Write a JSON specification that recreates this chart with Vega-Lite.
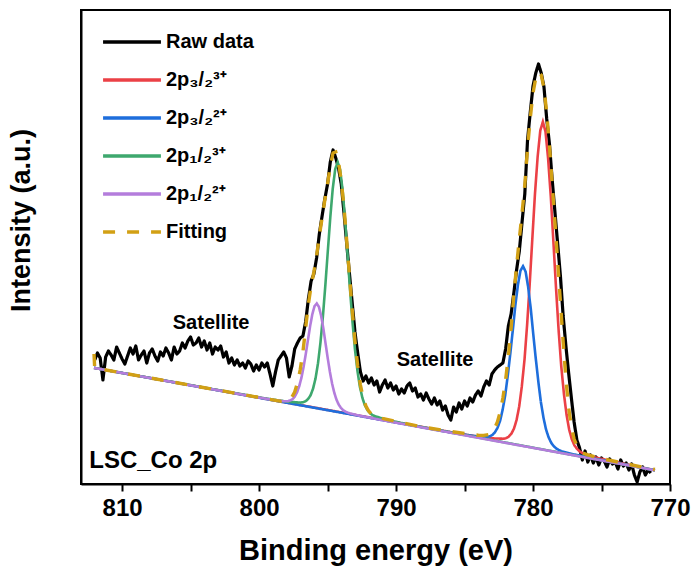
{
"$schema":"https://vega.github.io/schema/vega-lite/v6.json",
"width":589,"height":474,"autosize":{"type":"none"},
"padding":{"left":81,"top":10,"right":22,"bottom":90},
"background":"white",
"config":{"view":{"stroke":"black","strokeWidth":2},"font":"Liberation Sans"},
"data":{"values":[
{"s":"Raw data","e":812.0,"v":124},{"s":"Raw data","e":811.8,"v":131},{"s":"Raw data","e":811.6,"v":126},{"s":"Raw data","e":811.4,"v":104},{"s":"Raw data","e":811.2,"v":127},{"s":"Raw data","e":811.0,"v":133},{"s":"Raw data","e":810.8,"v":129},{"s":"Raw data","e":810.6,"v":124},{"s":"Raw data","e":810.4,"v":137},{"s":"Raw data","e":810.2,"v":131},{"s":"Raw data","e":810.0,"v":125},{"s":"Raw data","e":809.8,"v":120},{"s":"Raw data","e":809.6,"v":128},{"s":"Raw data","e":809.4,"v":136},{"s":"Raw data","e":809.2,"v":130},{"s":"Raw data","e":809.0,"v":138},{"s":"Raw data","e":808.8,"v":124},{"s":"Raw data","e":808.6,"v":129},{"s":"Raw data","e":808.4,"v":133},{"s":"Raw data","e":808.2,"v":121},{"s":"Raw data","e":808.0,"v":131},{"s":"Raw data","e":807.8,"v":135},{"s":"Raw data","e":807.6,"v":128},{"s":"Raw data","e":807.4,"v":123},{"s":"Raw data","e":807.2,"v":132},{"s":"Raw data","e":807.0,"v":128},{"s":"Raw data","e":806.8,"v":136},{"s":"Raw data","e":806.6,"v":131},{"s":"Raw data","e":806.4,"v":124},{"s":"Raw data","e":806.2,"v":137},{"s":"Raw data","e":806.0,"v":130},{"s":"Raw data","e":805.8,"v":133},{"s":"Raw data","e":805.6,"v":141},{"s":"Raw data","e":805.4,"v":136},{"s":"Raw data","e":805.2,"v":143},{"s":"Raw data","e":805.0,"v":147},{"s":"Raw data","e":804.8,"v":139},{"s":"Raw data","e":804.6,"v":141},{"s":"Raw data","e":804.4,"v":146},{"s":"Raw data","e":804.2,"v":137},{"s":"Raw data","e":804.0,"v":143},{"s":"Raw data","e":803.8,"v":134},{"s":"Raw data","e":803.6,"v":141},{"s":"Raw data","e":803.4,"v":130},{"s":"Raw data","e":803.2,"v":137},{"s":"Raw data","e":803.0,"v":134},{"s":"Raw data","e":802.8,"v":138},{"s":"Raw data","e":802.6,"v":127},{"s":"Raw data","e":802.4,"v":132},{"s":"Raw data","e":802.2,"v":121},{"s":"Raw data","e":802.0,"v":126},{"s":"Raw data","e":801.8,"v":119},{"s":"Raw data","e":801.6,"v":124},{"s":"Raw data","e":801.4,"v":118},{"s":"Raw data","e":801.2,"v":121},{"s":"Raw data","e":801.0,"v":116},{"s":"Raw data","e":800.8,"v":123},{"s":"Raw data","e":800.6,"v":120},{"s":"Raw data","e":800.4,"v":113},{"s":"Raw data","e":800.2,"v":119},{"s":"Raw data","e":800.0,"v":114},{"s":"Raw data","e":799.8,"v":121},{"s":"Raw data","e":799.6,"v":117},{"s":"Raw data","e":799.4,"v":121},{"s":"Raw data","e":799.2,"v":110},{"s":"Raw data","e":799.0,"v":98},{"s":"Raw data","e":798.8,"v":112},{"s":"Raw data","e":798.6,"v":124},{"s":"Raw data","e":798.4,"v":128},{"s":"Raw data","e":798.2,"v":132},{"s":"Raw data","e":798.0,"v":126},{"s":"Raw data","e":797.8,"v":107},{"s":"Raw data","e":797.6,"v":118},{"s":"Raw data","e":797.4,"v":135},{"s":"Raw data","e":797.2,"v":141},{"s":"Raw data","e":797.0,"v":146},{"s":"Raw data","e":796.8,"v":148},{"s":"Raw data","e":796.6,"v":162},{"s":"Raw data","e":796.4,"v":185},{"s":"Raw data","e":796.2,"v":203},{"s":"Raw data","e":796.0,"v":210},{"s":"Raw data","e":795.8,"v":226},{"s":"Raw data","e":795.6,"v":250},{"s":"Raw data","e":795.4,"v":268},{"s":"Raw data","e":795.2,"v":285},{"s":"Raw data","e":795.0,"v":300},{"s":"Raw data","e":794.8,"v":322},{"s":"Raw data","e":794.6,"v":334},{"s":"Raw data","e":794.4,"v":326},{"s":"Raw data","e":794.2,"v":316},{"s":"Raw data","e":794.0,"v":300},{"s":"Raw data","e":793.8,"v":271},{"s":"Raw data","e":793.6,"v":240},{"s":"Raw data","e":793.4,"v":210},{"s":"Raw data","e":793.2,"v":181},{"s":"Raw data","e":793.0,"v":152},{"s":"Raw data","e":792.8,"v":131},{"s":"Raw data","e":792.6,"v":112},{"s":"Raw data","e":792.4,"v":103},{"s":"Raw data","e":792.2,"v":108},{"s":"Raw data","e":792.0,"v":101},{"s":"Raw data","e":791.8,"v":106},{"s":"Raw data","e":791.6,"v":99},{"s":"Raw data","e":791.4,"v":103},{"s":"Raw data","e":791.2,"v":92},{"s":"Raw data","e":791.0,"v":99},{"s":"Raw data","e":790.8,"v":104},{"s":"Raw data","e":790.6,"v":96},{"s":"Raw data","e":790.4,"v":101},{"s":"Raw data","e":790.2,"v":94},{"s":"Raw data","e":790.0,"v":98},{"s":"Raw data","e":789.8,"v":90},{"s":"Raw data","e":789.6,"v":95},{"s":"Raw data","e":789.4,"v":91},{"s":"Raw data","e":789.2,"v":98},{"s":"Raw data","e":789.0,"v":101},{"s":"Raw data","e":788.8,"v":93},{"s":"Raw data","e":788.6,"v":96},{"s":"Raw data","e":788.4,"v":87},{"s":"Raw data","e":788.2,"v":90},{"s":"Raw data","e":788.0,"v":84},{"s":"Raw data","e":787.8,"v":91},{"s":"Raw data","e":787.6,"v":85},{"s":"Raw data","e":787.4,"v":80},{"s":"Raw data","e":787.2,"v":86},{"s":"Raw data","e":787.0,"v":79},{"s":"Raw data","e":786.8,"v":83},{"s":"Raw data","e":786.6,"v":74},{"s":"Raw data","e":786.4,"v":78},{"s":"Raw data","e":786.2,"v":69},{"s":"Raw data","e":786.0,"v":64},{"s":"Raw data","e":785.8,"v":77},{"s":"Raw data","e":785.6,"v":72},{"s":"Raw data","e":785.4,"v":81},{"s":"Raw data","e":785.2,"v":75},{"s":"Raw data","e":785.0,"v":83},{"s":"Raw data","e":784.8,"v":78},{"s":"Raw data","e":784.6,"v":86},{"s":"Raw data","e":784.4,"v":82},{"s":"Raw data","e":784.2,"v":89},{"s":"Raw data","e":784.0,"v":93},{"s":"Raw data","e":783.8,"v":88},{"s":"Raw data","e":783.6,"v":97},{"s":"Raw data","e":783.4,"v":103},{"s":"Raw data","e":783.2,"v":99},{"s":"Raw data","e":783.0,"v":110},{"s":"Raw data","e":782.8,"v":114},{"s":"Raw data","e":782.6,"v":117},{"s":"Raw data","e":782.4,"v":119},{"s":"Raw data","e":782.2,"v":121},{"s":"Raw data","e":782.0,"v":135},{"s":"Raw data","e":781.8,"v":158},{"s":"Raw data","e":781.6,"v":170},{"s":"Raw data","e":781.4,"v":191},{"s":"Raw data","e":781.2,"v":214},{"s":"Raw data","e":781.0,"v":233},{"s":"Raw data","e":780.8,"v":262},{"s":"Raw data","e":780.6,"v":290},{"s":"Raw data","e":780.4,"v":344},{"s":"Raw data","e":780.2,"v":372},{"s":"Raw data","e":780.0,"v":398},{"s":"Raw data","e":779.8,"v":411},{"s":"Raw data","e":779.6,"v":420},{"s":"Raw data","e":779.4,"v":411},{"s":"Raw data","e":779.2,"v":397},{"s":"Raw data","e":779.0,"v":365},{"s":"Raw data","e":778.8,"v":340},{"s":"Raw data","e":778.6,"v":304},{"s":"Raw data","e":778.4,"v":272},{"s":"Raw data","e":778.2,"v":240},{"s":"Raw data","e":778.0,"v":208},{"s":"Raw data","e":777.8,"v":168},{"s":"Raw data","e":777.6,"v":138},{"s":"Raw data","e":777.4,"v":111},{"s":"Raw data","e":777.2,"v":86},{"s":"Raw data","e":777.0,"v":62},{"s":"Raw data","e":776.8,"v":44},{"s":"Raw data","e":776.6,"v":36},{"s":"Raw data","e":776.4,"v":24},{"s":"Raw data","e":776.2,"v":33},{"s":"Raw data","e":776.0,"v":22},{"s":"Raw data","e":775.8,"v":29},{"s":"Raw data","e":775.6,"v":21},{"s":"Raw data","e":775.4,"v":27},{"s":"Raw data","e":775.2,"v":19},{"s":"Raw data","e":775.0,"v":26},{"s":"Raw data","e":774.8,"v":23},{"s":"Raw data","e":774.6,"v":17},{"s":"Raw data","e":774.4,"v":25},{"s":"Raw data","e":774.2,"v":20},{"s":"Raw data","e":774.0,"v":22},{"s":"Raw data","e":773.8,"v":15},{"s":"Raw data","e":773.6,"v":24},{"s":"Raw data","e":773.4,"v":18},{"s":"Raw data","e":773.2,"v":21},{"s":"Raw data","e":773.0,"v":14},{"s":"Raw data","e":772.8,"v":20},{"s":"Raw data","e":772.6,"v":9},{"s":"Raw data","e":772.4,"v":2},{"s":"Raw data","e":772.2,"v":12},{"s":"Raw data","e":772.0,"v":17},{"s":"Raw data","e":771.8,"v":9},{"s":"Raw data","e":771.6,"v":14},{"s":"Raw data","e":771.4,"v":11},

{"s":"2p₃/₂³⁺","e":771.1,"v":13.75},{"s":"2p₃/₂³⁺","e":773.52,"v":20.7},{"s":"2p₃/₂³⁺","e":775.44,"v":26.5},{"s":"2p₃/₂³⁺","e":776.40,"v":30.9},{"s":"2p₃/₂³⁺","e":776.59,"v":32.5},{"s":"2p₃/₂³⁺","e":776.78,"v":35.0},{"s":"2p₃/₂³⁺","e":776.98,"v":38.7},{"s":"2p₃/₂³⁺","e":777.17,"v":44.8},{"s":"2p₃/₂³⁺","e":777.36,"v":54.4},{"s":"2p₃/₂³⁺","e":777.55,"v":68.9},{"s":"2p₃/₂³⁺","e":777.74,"v":89.7},{"s":"2p₃/₂³⁺","e":777.94,"v":117.8},{"s":"2p₃/₂³⁺","e":778.13,"v":153.5},{"s":"2p₃/₂³⁺","e":778.32,"v":195.8},{"s":"2p₃/₂³⁺","e":778.51,"v":241.7},{"s":"2p₃/₂³⁺","e":778.70,"v":286.9},{"s":"2p₃/₂³⁺","e":778.90,"v":325.7},{"s":"2p₃/₂³⁺","e":779.09,"v":352.4},{"s":"2p₃/₂³⁺","e":779.28,"v":362.2},{"s":"2p₃/₂³⁺","e":779.47,"v":353.4},{"s":"2p₃/₂³⁺","e":779.66,"v":327.7},{"s":"2p₃/₂³⁺","e":779.86,"v":289.7},{"s":"2p₃/₂³⁺","e":780.05,"v":245.5},{"s":"2p₃/₂³⁺","e":780.24,"v":200.6},{"s":"2p₃/₂³⁺","e":780.43,"v":159.3},{"s":"2p₃/₂³⁺","e":780.62,"v":124.6},{"s":"2p₃/₂³⁺","e":780.82,"v":97.3},{"s":"2p₃/₂³⁺","e":781.01,"v":77.5},{"s":"2p₃/₂³⁺","e":781.20,"v":64.0},{"s":"2p₃/₂³⁺","e":781.39,"v":55.4},{"s":"2p₃/₂³⁺","e":781.58,"v":50.3},{"s":"2p₃/₂³⁺","e":781.78,"v":47.4},{"s":"2p₃/₂³⁺","e":781.97,"v":45.9},{"s":"2p₃/₂³⁺","e":782.16,"v":45.3},{"s":"2p₃/₂³⁺","e":783.12,"v":45.7},{"s":"2p₃/₂³⁺","e":785.04,"v":49.5},{"s":"2p₃/₂³⁺","e":812.05,"v":116.1},

{"s":"2p₃/₂²⁺","e":771.1,"v":13.75},{"s":"2p₃/₂²⁺","e":775.15,"v":24.4},{"s":"2p₃/₂²⁺","e":777.01,"v":29.6},{"s":"2p₃/₂²⁺","e":777.94,"v":32.9},{"s":"2p₃/₂²⁺","e":778.13,"v":34.1},{"s":"2p₃/₂²⁺","e":778.31,"v":35.6},{"s":"2p₃/₂²⁺","e":778.50,"v":38.0},{"s":"2p₃/₂²⁺","e":778.68,"v":41.4},{"s":"2p₃/₂²⁺","e":778.87,"v":46.9},{"s":"2p₃/₂²⁺","e":779.06,"v":55.0},{"s":"2p₃/₂²⁺","e":779.24,"v":66.6},{"s":"2p₃/₂²⁺","e":779.43,"v":82.3},{"s":"2p₃/₂²⁺","e":779.61,"v":102.1},{"s":"2p₃/₂²⁺","e":779.80,"v":125.5},{"s":"2p₃/₂²⁺","e":779.99,"v":150.9},{"s":"2p₃/₂²⁺","e":780.17,"v":175.9},{"s":"2p₃/₂²⁺","e":780.36,"v":197.4},{"s":"2p₃/₂²⁺","e":780.54,"v":212.3},{"s":"2p₃/₂²⁺","e":780.73,"v":217.8},{"s":"2p₃/₂²⁺","e":780.92,"v":213.2},{"s":"2p₃/₂²⁺","e":781.10,"v":199.3},{"s":"2p₃/₂²⁺","e":781.29,"v":178.7},{"s":"2p₃/₂²⁺","e":781.47,"v":154.6},{"s":"2p₃/₂²⁺","e":781.66,"v":130.2},{"s":"2p₃/₂²⁺","e":781.85,"v":107.7},{"s":"2p₃/₂²⁺","e":782.03,"v":88.8},{"s":"2p₃/₂²⁺","e":782.22,"v":74.1},{"s":"2p₃/₂²⁺","e":782.40,"v":63.4},{"s":"2p₃/₂²⁺","e":782.59,"v":56.2},{"s":"2p₃/₂²⁺","e":782.78,"v":51.7},{"s":"2p₃/₂²⁺","e":782.96,"v":49.1},{"s":"2p₃/₂²⁺","e":783.15,"v":47.7},{"s":"2p₃/₂²⁺","e":783.33,"v":47.1},{"s":"2p₃/₂²⁺","e":783.52,"v":46.9},{"s":"2p₃/₂²⁺","e":784.45,"v":48.2},{"s":"2p₃/₂²⁺","e":786.31,"v":52.3},{"s":"2p₃/₂²⁺","e":812.05,"v":116.1},

{"s":"2p₁/₂³⁺","e":771.1,"v":13.75},{"s":"2p₁/₂³⁺","e":788.86,"v":58.8},{"s":"2p₁/₂³⁺","e":790.66,"v":64.1},{"s":"2p₁/₂³⁺","e":791.56,"v":67.9},{"s":"2p₁/₂³⁺","e":791.74,"v":69.2},{"s":"2p₁/₂³⁺","e":791.92,"v":71.1},{"s":"2p₁/₂³⁺","e":792.10,"v":74.2},{"s":"2p₁/₂³⁺","e":792.28,"v":78.8},{"s":"2p₁/₂³⁺","e":792.46,"v":86.3},{"s":"2p₁/₂³⁺","e":792.64,"v":97.3},{"s":"2p₁/₂³⁺","e":792.82,"v":113.3},{"s":"2p₁/₂³⁺","e":793.00,"v":134.8},{"s":"2p₁/₂³⁺","e":793.18,"v":162.2},{"s":"2p₁/₂³⁺","e":793.36,"v":194.4},{"s":"2p₁/₂³⁺","e":793.54,"v":229.5},{"s":"2p₁/₂³⁺","e":793.72,"v":264.0},{"s":"2p₁/₂³⁺","e":793.90,"v":293.7},{"s":"2p₁/₂³⁺","e":794.08,"v":314.1},{"s":"2p₁/₂³⁺","e":794.26,"v":321.7},{"s":"2p₁/₂³⁺","e":794.44,"v":315.0},{"s":"2p₁/₂³⁺","e":794.62,"v":295.5},{"s":"2p₁/₂³⁺","e":794.80,"v":266.7},{"s":"2p₁/₂³⁺","e":794.98,"v":233.1},{"s":"2p₁/₂³⁺","e":795.16,"v":198.9},{"s":"2p₁/₂³⁺","e":795.34,"v":167.6},{"s":"2p₁/₂³⁺","e":795.52,"v":141.1},{"s":"2p₁/₂³⁺","e":795.70,"v":120.5},{"s":"2p₁/₂³⁺","e":795.88,"v":105.4},{"s":"2p₁/₂³⁺","e":796.06,"v":95.3},{"s":"2p₁/₂³⁺","e":796.24,"v":88.7},{"s":"2p₁/₂³⁺","e":796.42,"v":85.0},{"s":"2p₁/₂³⁺","e":796.60,"v":82.8},{"s":"2p₁/₂³⁺","e":796.78,"v":81.8},{"s":"2p₁/₂³⁺","e":796.96,"v":81.4},{"s":"2p₁/₂³⁺","e":797.86,"v":82.2},{"s":"2p₁/₂³⁺","e":799.66,"v":85.8},{"s":"2p₁/₂³⁺","e":812.05,"v":116.1},

{"s":"2p₁/₂²⁺","e":771.1,"v":13.75},{"s":"2p₁/₂²⁺","e":790.99,"v":63.8},{"s":"2p₁/₂²⁺","e":792.59,"v":68.1},{"s":"2p₁/₂²⁺","e":793.39,"v":70.7},{"s":"2p₁/₂²⁺","e":793.55,"v":71.5},{"s":"2p₁/₂²⁺","e":793.71,"v":72.5},{"s":"2p₁/₂²⁺","e":793.87,"v":74.0},{"s":"2p₁/₂²⁺","e":794.03,"v":76.2},{"s":"2p₁/₂²⁺","e":794.19,"v":79.5},{"s":"2p₁/₂²⁺","e":794.35,"v":84.4},{"s":"2p₁/₂²⁺","e":794.51,"v":91.3},{"s":"2p₁/₂²⁺","e":794.67,"v":100.5},{"s":"2p₁/₂²⁺","e":794.83,"v":112.2},{"s":"2p₁/₂²⁺","e":794.99,"v":126.0},{"s":"2p₁/₂²⁺","e":795.15,"v":140.9},{"s":"2p₁/₂²⁺","e":795.31,"v":155.7},{"s":"2p₁/₂²⁺","e":795.47,"v":168.3},{"s":"2p₁/₂²⁺","e":795.63,"v":177.1},{"s":"2p₁/₂²⁺","e":795.79,"v":180.5},{"s":"2p₁/₂²⁺","e":795.95,"v":177.9},{"s":"2p₁/₂²⁺","e":796.11,"v":169.9},{"s":"2p₁/₂²⁺","e":796.27,"v":158.1},{"s":"2p₁/₂²⁺","e":796.43,"v":144.1},{"s":"2p₁/₂²⁺","e":796.59,"v":130.0},{"s":"2p₁/₂²⁺","e":796.75,"v":117.0},{"s":"2p₁/₂²⁺","e":796.91,"v":106.1},{"s":"2p₁/₂²⁺","e":797.07,"v":97.7},{"s":"2p₁/₂²⁺","e":797.23,"v":91.6},{"s":"2p₁/₂²⁺","e":797.39,"v":87.5},{"s":"2p₁/₂²⁺","e":797.55,"v":85.0},{"s":"2p₁/₂²⁺","e":797.71,"v":83.6},{"s":"2p₁/₂²⁺","e":797.87,"v":82.9},{"s":"2p₁/₂²⁺","e":798.03,"v":82.7},{"s":"2p₁/₂²⁺","e":798.19,"v":82.7},{"s":"2p₁/₂²⁺","e":798.99,"v":84.1},{"s":"2p₁/₂²⁺","e":800.59,"v":87.8},{"s":"2p₁/₂²⁺","e":812.05,"v":116.1},

{"s":"Fitting","e":812.05,"v":130},{"s":"Fitting","e":812.0,"v":116},{"s":"Fitting","e":798.4,"v":82.6},{"s":"Fitting","e":798.0,"v":83},{"s":"Fitting","e":797.8,"v":84},{"s":"Fitting","e":797.6,"v":87},{"s":"Fitting","e":797.4,"v":92},{"s":"Fitting","e":797.2,"v":101},{"s":"Fitting","e":797.0,"v":114},{"s":"Fitting","e":796.8,"v":132},{"s":"Fitting","e":796.6,"v":156},{"s":"Fitting","e":796.4,"v":180},{"s":"Fitting","e":796.2,"v":198},{"s":"Fitting","e":796.0,"v":212},{"s":"Fitting","e":795.8,"v":228},{"s":"Fitting","e":795.6,"v":248},{"s":"Fitting","e":795.4,"v":266},{"s":"Fitting","e":795.2,"v":284},{"s":"Fitting","e":795.0,"v":300},{"s":"Fitting","e":794.8,"v":318},{"s":"Fitting","e":794.6,"v":331},{"s":"Fitting","e":794.4,"v":332},{"s":"Fitting","e":794.2,"v":322},{"s":"Fitting","e":794.0,"v":303},{"s":"Fitting","e":793.8,"v":277},{"s":"Fitting","e":793.6,"v":243},{"s":"Fitting","e":793.4,"v":208},{"s":"Fitting","e":793.2,"v":174},{"s":"Fitting","e":793.0,"v":143},{"s":"Fitting","e":792.8,"v":118},{"s":"Fitting","e":792.6,"v":99},{"s":"Fitting","e":792.4,"v":86},{"s":"Fitting","e":792.2,"v":78},{"s":"Fitting","e":792.0,"v":73},{"s":"Fitting","e":791.8,"v":70},{"s":"Fitting","e":791.6,"v":68.4},{"s":"Fitting","e":791.4,"v":67.4},{"s":"Fitting","e":791.0,"v":65.6},{"s":"Fitting","e":790.0,"v":62.5},{"s":"Fitting","e":788.0,"v":56.8},{"s":"Fitting","e":786.0,"v":52.5},{"s":"Fitting","e":784.0,"v":48.7},{"s":"Fitting","e":783.6,"v":48.6},{"s":"Fitting","e":783.2,"v":49.5},{"s":"Fitting","e":783.0,"v":52},{"s":"Fitting","e":782.8,"v":56},{"s":"Fitting","e":782.6,"v":62},{"s":"Fitting","e":782.4,"v":72},{"s":"Fitting","e":782.2,"v":86},{"s":"Fitting","e":782.0,"v":104},{"s":"Fitting","e":781.8,"v":128},{"s":"Fitting","e":781.6,"v":156},{"s":"Fitting","e":781.4,"v":189},{"s":"Fitting","e":781.2,"v":218},{"s":"Fitting","e":781.0,"v":245},{"s":"Fitting","e":780.8,"v":271},{"s":"Fitting","e":780.6,"v":299},{"s":"Fitting","e":780.4,"v":336},{"s":"Fitting","e":780.2,"v":366},{"s":"Fitting","e":780.0,"v":391},{"s":"Fitting","e":779.8,"v":406},{"s":"Fitting","e":779.6,"v":412},{"s":"Fitting","e":779.4,"v":409},{"s":"Fitting","e":779.2,"v":396},{"s":"Fitting","e":779.0,"v":371},{"s":"Fitting","e":778.8,"v":338},{"s":"Fitting","e":778.6,"v":300},{"s":"Fitting","e":778.4,"v":262},{"s":"Fitting","e":778.2,"v":222},{"s":"Fitting","e":778.0,"v":182},{"s":"Fitting","e":777.8,"v":142},{"s":"Fitting","e":777.6,"v":105},{"s":"Fitting","e":777.4,"v":76},{"s":"Fitting","e":777.2,"v":57},{"s":"Fitting","e":777.0,"v":45},{"s":"Fitting","e":776.8,"v":38},{"s":"Fitting","e":776.6,"v":34},{"s":"Fitting","e":776.4,"v":31},{"s":"Fitting","e":776.0,"v":29.2},{"s":"Fitting","e":775.0,"v":25.5},{"s":"Fitting","e":773.0,"v":19.6},{"s":"Fitting","e":771.1,"v":14.5}
]},
"encoding":{
 "x":{"field":"e","type":"quantitative","scale":{"domain":[770,813],"reverse":true,"nice":false,"zero":false},
  "axis":{"title":"Binding energy (eV)","values":[770,775,780,785,790,795,800,805,810],"labelExpr":"datum.value % 10 === 0 ? datum.label : ''","grid":false,"domainColor":"black","domainWidth":2,"tickColor":"black","tickWidth":2,"tickSize":7,"labelFont":"Liberation Sans","labelFontSize":24,"labelFontWeight":"bold","labelColor":"black","labelPadding":5,"labelOverlap":false,"labelFlush":false,"titleFont":"Liberation Sans","titleFontSize":29,"titleFontWeight":"bold","titleColor":"black","titlePadding":16}},
 "y":{"field":"v","type":"quantitative","scale":{"domain":[0,474],"nice":false,"zero":false},
  "axis":{"title":"Intensity (a.u.)","ticks":false,"labels":false,"grid":false,"domainColor":"black","domainWidth":2,"titleFont":"Liberation Sans","titleFontSize":27,"titleFontWeight":"bold","titleColor":"black","titlePadding":46,"titleY":210}}
},
"layer":[
 {"transform":[{"filter":"datum.s === 'Raw data'"}],"mark":{"type":"line","strokeWidth":3.2,"strokeJoin":"round"},
  "encoding":{"color":{"field":"s","type":"nominal","scale":{"domain":["Raw data","2p₃/₂³⁺","2p₃/₂²⁺","2p₁/₂³⁺","2p₁/₂²⁺","Fitting"],"range":["#000000","#EB4046","#1E6EDC","#3EA86E","#B47DDC","#D2A014"]},
   "legend":{"orient":"none","legendX":33,"legendY":14,"title":null,"symbolType":"M-1.83,0L1.83,0","symbolSize":1000,"symbolStrokeWidth":3.5,"labelFont":"Liberation Sans","labelFontSize":20,"labelFontWeight":"bold","labelColor":"black","labelOffset":16,"rowPadding":10,"padding":0}},
   "strokeDash":{"field":"s","type":"nominal","scale":{"domain":["Raw data","2p₃/₂³⁺","2p₃/₂²⁺","2p₁/₂³⁺","2p₁/₂²⁺","Fitting"],"range":[[1,0],[1,0],[1,0],[1,0],[1,0],[12,12]]},
   "legend":{"orient":"none","legendX":33,"legendY":14,"title":null,"symbolType":"M-1.83,0L1.83,0","symbolSize":1000,"symbolStrokeWidth":3.5,"labelFont":"Liberation Sans","labelFontSize":20,"labelFontWeight":"bold","labelColor":"black","labelOffset":16,"rowPadding":10,"padding":0}}}},
 {"transform":[{"filter":"datum.s === '2p₃/₂³⁺'"}],"mark":{"type":"line","strokeWidth":2.6},"encoding":{"color":{"field":"s","type":"nominal"},"strokeDash":{"field":"s","type":"nominal"}}},
 {"transform":[{"filter":"datum.s === '2p₃/₂²⁺'"}],"mark":{"type":"line","strokeWidth":2.6},"encoding":{"color":{"field":"s","type":"nominal"},"strokeDash":{"field":"s","type":"nominal"}}},
 {"transform":[{"filter":"datum.s === '2p₁/₂³⁺'"}],"mark":{"type":"line","strokeWidth":2.6},"encoding":{"color":{"field":"s","type":"nominal"},"strokeDash":{"field":"s","type":"nominal"}}},
 {"transform":[{"filter":"datum.s === '2p₁/₂²⁺'"}],"mark":{"type":"line","strokeWidth":2.6},"encoding":{"color":{"field":"s","type":"nominal"},"strokeDash":{"field":"s","type":"nominal"}}},
 {"transform":[{"filter":"datum.s === 'Fitting'"}],"mark":{"type":"line","strokeWidth":3.4},"encoding":{"color":{"field":"s","type":"nominal"},"strokeDash":{"field":"s","type":"nominal"}}},
 {"data":{"values":[{"e":803.5,"v":161,"t":"Satellite"},{"e":787.15,"v":124,"t":"Satellite"}]},
  "mark":{"type":"text","font":"Liberation Sans","fontSize":20,"fontWeight":"bold","color":"black","align":"center","baseline":"middle"},
  "encoding":{"text":{"field":"t"}}},
 {"data":{"values":[{"e":812.4,"v":16,"t":"LSC_Co 2p"}]},
  "mark":{"type":"text","font":"Liberation Sans","fontSize":24,"fontWeight":"bold","color":"black","align":"left","baseline":"alphabetic"},
  "encoding":{"text":{"field":"t"}}}
]
}
